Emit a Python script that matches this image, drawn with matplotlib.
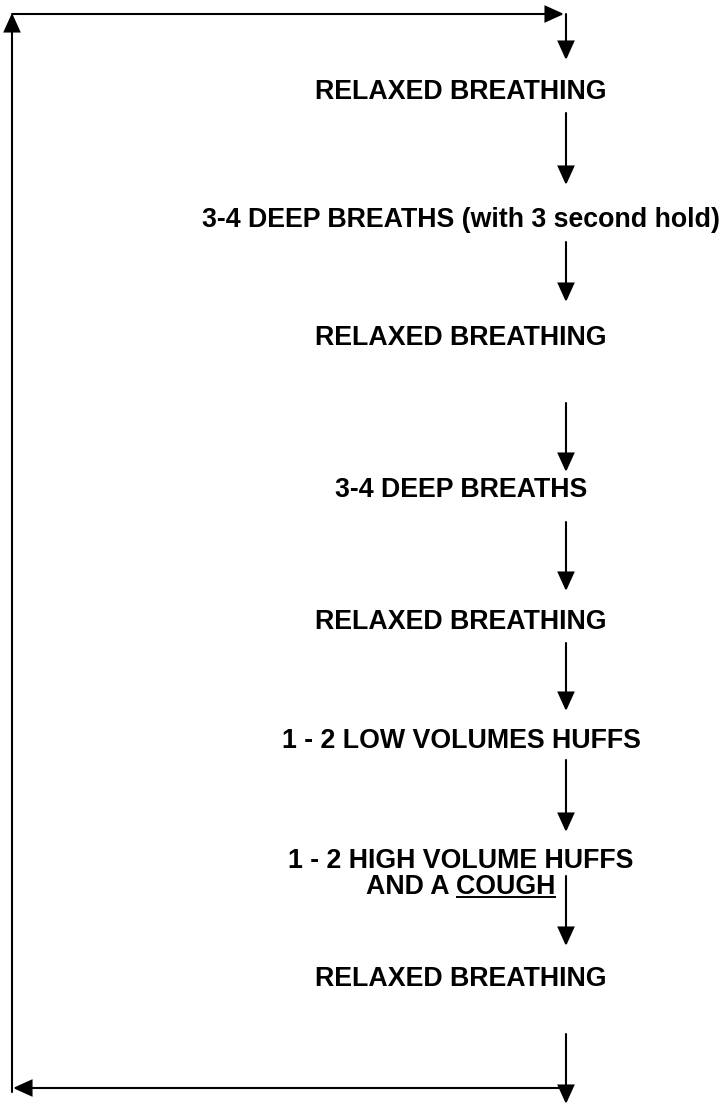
import matplotlib
matplotlib.use("Agg")
import matplotlib.pyplot as plt
from matplotlib.patches import FancyArrowPatch

# steps of the breathing cycle, top to bottom
steps = [
    "RELAXED BREATHING",
    "3-4 DEEP BREATHS (with 3 second hold)",
    "RELAXED BREATHING",
    "3-4 DEEP BREATHS",
    "RELAXED BREATHING",
    "1 - 2 LOW VOLUMES HUFFS",
    "1 - 2 HIGH VOLUME HUFFS\nAND A COUGH",
    "RELAXED BREATHING",
]
underlined_word = "COUGH"

# layout (pixels, y downwards)
W, H = 725, 1105
text_x = 461
arrow_x = 566
loop_x = 12
top_y = 14
bottom_y = 1088
baselines = [99, 227, 345, 497, 629, 748, 868, 986]
line_gap = 26
# down arrows: (start, end)
down_arrows = [(14, 60), (113, 185), (242, 302), (403, 472), (522, 591),
               (643, 711), (760, 832), (876, 946), (1034, 1104)]

fig = plt.figure(figsize=(W / 100, H / 100), dpi=100)
ax = fig.add_axes([0, 0, 1, 1])
ax.set_xlim(0, W)
ax.set_ylim(H, 0)
ax.axis("off")

font = dict(family=["Liberation Sans", "DejaVu Sans"], weight="bold", size=19.3)


def arrow(p0, p1):
    ax.add_patch(FancyArrowPatch(p0, p1, arrowstyle="-|>,head_length=1.15,head_width=0.52",
                                 mutation_scale=10, lw=1.5, color="black",
                                 shrinkA=0, shrinkB=0, joinstyle="miter"))


texts = []
for label, y in zip(steps, baselines):
    lines = label.split("\n")
    for k, ln in enumerate(lines):
        t = ax.text(text_x, y + k * line_gap, ln, ha="center", va="baseline", **font)
        texts.append(t)

for y0, y1 in down_arrows:
    arrow((arrow_x, y0), (arrow_x, y1))

# loop back
arrow((loop_x, top_y), (arrow_x - 2, top_y))
arrow((arrow_x, bottom_y), (loop_x + 1, bottom_y))
arrow((loop_x, bottom_y + 4), (loop_x, top_y - 1))

# underline the word
fig.canvas.draw()
r = fig.canvas.get_renderer()
inv = ax.transData.inverted()
for t in texts:
    s = t.get_text()
    if s.endswith(underlined_word):
        bb = t.get_window_extent(r)
        probe = ax.text(0, 0, underlined_word, **font)
        w = probe.get_window_extent(r).width
        probe.remove()
        x1 = inv.transform((bb.x1, 0))[0]
        x0 = inv.transform((bb.x1 - w, 0))[0]
        yb = t.get_position()[1] + 3
        ax.plot([x0, x1], [yb, yb], color="black", lw=1.4, solid_capstyle="butt")

fig.savefig("out.png", dpi=100)
